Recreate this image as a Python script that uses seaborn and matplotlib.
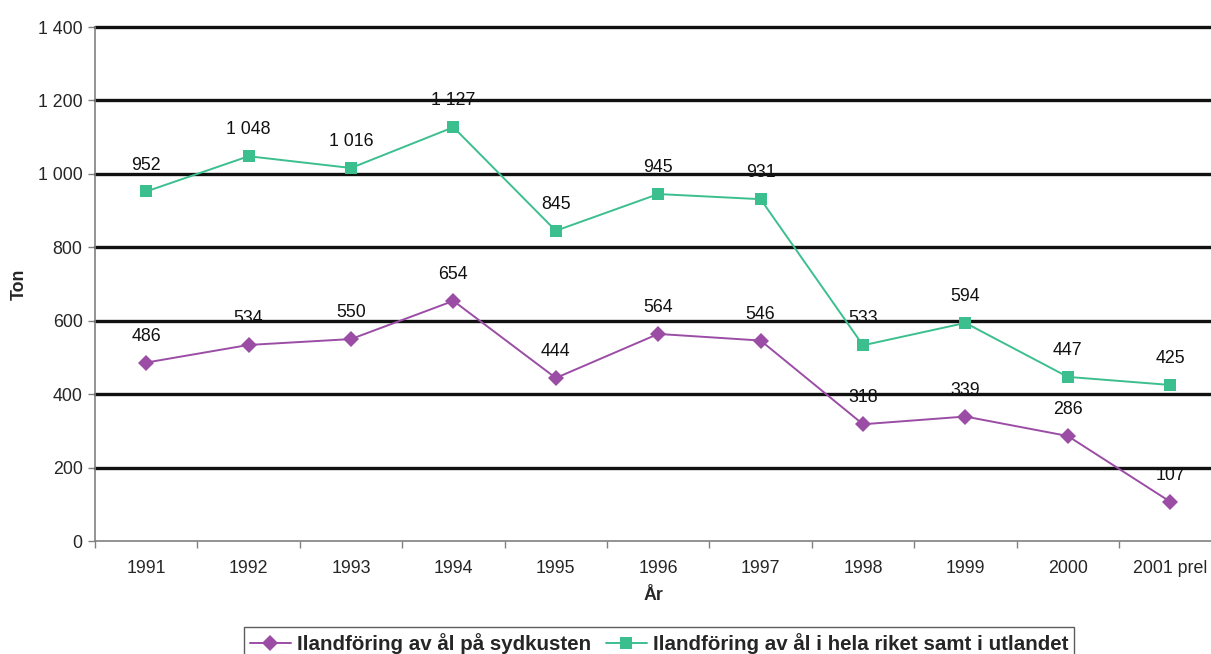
import matplotlib
matplotlib.use("Agg")
import matplotlib.pyplot as plt
import seaborn as sns
import pandas as pd
import numpy as np
from matplotlib.ticker import FixedLocator, NullFormatter
from matplotlib.lines import Line2D

years = ["1991", "1992", "1993", "1994", "1995", "1996", "1997", "1998", "1999", "2000", "2001 prel"]
sydkusten = [486, 534, 550, 654, 444, 564, 546, 318, 339, 286, 107]
hela_riket = [952, 1048, 1016, 1127, 845, 945, 931, 533, 594, 447, 425]
series_names = ["Ilandföring av ål på sydkusten", "Ilandföring av ål i hela riket samt i utlandet"]
y_ticks = [0, 200, 400, 600, 800, 1000, 1200, 1400]

sns.set_theme(style="white")
plt.rcParams["font.family"] = ["Liberation Sans", "DejaVu Sans"]

df = pd.DataFrame({
    "idx": list(range(len(years))) * 2,
    "value": sydkusten + hela_riket,
    "series": [series_names[0]] * len(years) + [series_names[1]] * len(years),
})

colors = {series_names[0]: "#9B4DA5", series_names[1]: "#3CBF8E"}
markers = {series_names[0]: "D", series_names[1]: "s"}

fig = plt.figure(figsize=(12.11, 6.54), dpi=100)
ax = fig.add_axes([95 / 1211, 1 - 541 / 654, 1 - 95 / 1211, (541 - 27) / 654])

sns.lineplot(data=df, x="idx", y="value", hue="series", style="series",
             palette=colors, markers=markers, dashes=False, markersize=8,
             linewidth=1.4, markeredgewidth=0, ax=ax, legend=False, zorder=5)

def fmt(v):
    return f"{v:,}".replace(",", " ")

for vals in (sydkusten, hela_riket):
    for i, v in enumerate(vals):
        ax.annotate(fmt(v), (i, v), xytext=(0, 19), textcoords="offset points",
                    ha="center", va="center", fontsize=12.8, color="#111111", zorder=6)

ax.set_ylim(0, 1400)
ax.set_xlim(-0.5, (1211 - 95) / 102.4 - 0.5)
ax.set_yticks(y_ticks)
ax.set_yticklabels([fmt(t) for t in y_ticks], fontsize=12.8)
for t in y_ticks[1:]:
    ax.axhline(t, color="#111111", linewidth=2.4, zorder=2, clip_on=False)

ax.xaxis.set_major_locator(FixedLocator(np.arange(-0.5, len(years), 1.0)))
ax.xaxis.set_major_formatter(NullFormatter())
ax.set_xticks(np.arange(len(years)), minor=True)
ax.set_xticklabels(years, minor=True, fontsize=12.8)
ax.tick_params(axis="x", which="major", direction="out", length=5, width=1, color="#808080", bottom=True)
ax.tick_params(axis="x", which="minor", length=0, pad=14, bottom=True)
ax.tick_params(axis="y", direction="out", length=5, width=1, color="#808080", left=True, pad=4)

for s in ["top", "right"]:
    ax.spines[s].set_visible(False)
for s in ["left", "bottom"]:
    ax.spines[s].set_color("#808080")
    ax.spines[s].set_linewidth(1.2)

ax.set_xlabel("År", fontsize=12.8, fontweight="bold", labelpad=7)
ax.set_ylabel("Ton", fontsize=12.8, fontweight="bold", labelpad=7)
ax.grid(False)

handles = [Line2D([0], [0], color=colors[n], marker=markers[n], markersize=8,
                  markeredgewidth=0, linewidth=1.4) for n in series_names]
leg = fig.legend(handles, series_names, loc="upper center", ncol=2,
                 bbox_to_anchor=(659 / 1211, 1 - 627 / 654), frameon=True,
                 fancybox=False, edgecolor="#333333", handlelength=2.0,
                 columnspacing=0.7, handletextpad=0.3, borderpad=0.3,
                 borderaxespad=0.0,
                 prop={"family": ["Liberation Sans"], "weight": "bold", "size": 14.8})
leg.get_frame().set_linewidth(1.0)

fig.savefig("out.png", dpi=100)
